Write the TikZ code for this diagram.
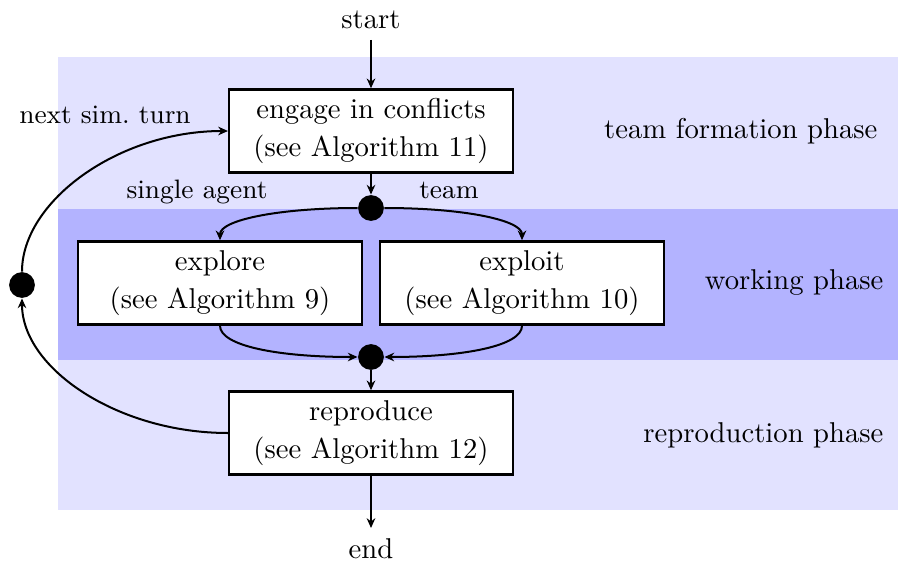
\documentclass[tikz,border=0pt]{standalone}
\usetikzlibrary{arrows.meta}
\definecolor{bandlight}{RGB}{226,226,255}
\definecolor{banddark}{RGB}{179,179,255}
\begin{document}
\begin{tikzpicture}[x=0.349pt,y=-0.349pt,
  stepbox/.style={draw,fill=white,line width=0.85pt,minimum width=99pt,minimum height=29pt,inner sep=0pt,align=center},
  junction/.style={circle,fill=black,minimum size=9pt,inner sep=0pt},
  flow/.style={line width=0.7pt,-{Stealth[length=3.4pt,width=3pt]}},
  plain/.style={inner sep=0pt},
  edgelabel/.style={inner sep=0pt,font=\fontsize{9.3}{11}\selectfont},
  terminal/.style={inner sep=3.6pt}]
  \useasboundingbox (0,0) rectangle (898,564);
  % phase bands
  \fill[bandlight] (58,57) rectangle (898,209);
  \fill[banddark]  (58,209) rectangle (898,360);
  \fill[bandlight] (58,360) rectangle (898,510);
  % phase labels
  \node[plain,anchor=east] (ptf) at (878,131) {team formation phase};
  \node[plain,anchor=east] (pw)  at (884,283) {working phase};
  \node[plain,anchor=east] (pr)  at (884,435) {reproduction phase};
  % process steps
  \node[terminal] (start) at (371,20) {start};
  \node[stepbox] (engage) at (371,131) {engage in conflicts\\[1.2pt](see Algorithm 11)};
  \node[junction] (split) at (371,208) {};
  \node[stepbox] (explore) at (220,283) {explore\\[1.2pt](see Algorithm 9)};
  \node[stepbox] (exploit) at (522,283) {exploit\\[1.2pt](see Algorithm 10)};
  \node[junction] (merge) at (371,357) {};
  \node[stepbox] (repro) at (371,433) {reproduce\\[1.2pt](see Algorithm 12)};
  \node[terminal] (end) at (371,549) {end};
  \node[junction] (loop) at (22,285) {};
  % edge labels
  \node[edgelabel] (lsingle) at (197,192) {single agent};
  \node[edgelabel] (lteam) at (449,190) {team};
  \node[edgelabel] (lnext) at (105,115) {next sim.\ turn};
  % connectors
  \draw[flow] (start) -- (engage);
  \draw[flow] (engage) -- (split);
  \draw[flow] (split.west) .. controls +(-80,0) and +(0,-20) .. (explore.north);
  \draw[flow] (split.east) .. controls +(80,0) and +(0,-20) .. (exploit.north);
  \draw[flow] (explore.south) .. controls +(0,20) and +(-80,0) .. (merge.west);
  \draw[flow] (exploit.south) .. controls +(0,20) and +(80,0) .. (merge.east);
  \draw[flow] (merge) -- (repro);
  \draw[flow] (repro) -- (end);
  \draw[flow] (repro.west) .. controls +(-110,0) and +(0,70) .. (loop.south);
  \draw[flow] (loop.north) .. controls +(0,-70) and +(-110,0) .. (engage.west);
\end{tikzpicture}
\end{document}
